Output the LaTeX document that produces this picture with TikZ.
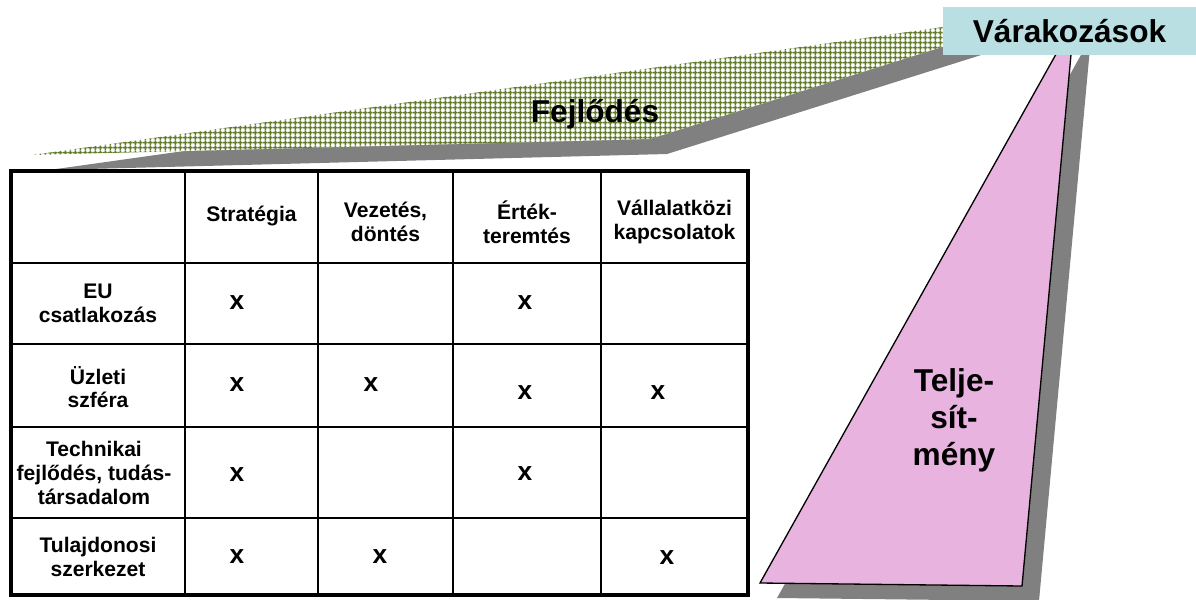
\documentclass[tikz,border=0pt]{standalone}
\usepackage{fontspec}
\setmainfont{Liberation Sans}
\usetikzlibrary{patterns.meta}

\definecolor{gridgreen}{RGB}{98,124,44}
\definecolor{shadowgray}{RGB}{128,128,128}
\definecolor{telpink}{RGB}{232,180,223}
\definecolor{varblue}{RGB}{185,223,227}

\tikzdeclarepattern{
  name=meshgrid,
  type=uncolored,
  bottom left={(0pt,0pt)},
  top right={(2.75pt,2.75pt)},
  tile size={(2.75pt,2.75pt)},
  code={
    \draw[line width=0.8pt] (0pt,1.375pt) -- (2.75pt,1.375pt)
      (1.375pt,0pt) -- (1.375pt,2.75pt);
  }
}

\tikzset{
  cellline/.style={line width=0.75pt},
  frameline/.style={line width=2.3pt},
  lbl/.style={font=\bfseries\fontsize{12}{13.5}\selectfont, align=center, inner sep=0pt},
  xmark/.style={font=\bfseries\fontsize{15}{15}\selectfont, inner sep=0pt},
  bigtext/.style={font=\bfseries\fontsize{18}{21}\selectfont, align=center, inner sep=0pt}
}

\begin{document}
\begin{tikzpicture}[x=0.02cm,y=-0.02cm]
  \useasboundingbox (0,0) rectangle (1196,599);

  % Fejlodes band and its shadow
  \fill[shadowgray] (49,170) -- (992,37.5) -- (992,51.6) -- (667,154) -- cycle;
  \fill[white] (32,155) -- (975,22.5) -- (975,36.6) -- (650,139) -- cycle;
  \fill[pattern=meshgrid, pattern color=gridgreen]
    (32,155) -- (975,22.5) -- (975,36.6) -- (650,139) -- cycle;
  \node (fejl) [bigtext, anchor=base] at (595,122) {Fejlődés};

  % table
  \fill[white] (11,171) rectangle (748,595);
  \foreach \cx in {185,318,453,601}
    \draw[cellline] (\cx,171) -- (\cx,595);
  \foreach \ry in {263,344,427,518}
    \draw[cellline] (11,\ry) -- (748,\ry);
  \draw[frameline] (11,171) rectangle (748,595);

  \node (hstrat) [lbl] at (251.5,216) {Stratégia};
  \node (hvez)   [lbl] at (385.5,222) {Vezetés,\\döntés};
  \node (hertek) [lbl] at (527,222) {Érték-\\teremtés};
  \node (hvall)  [lbl] at (674.5,222) {Vállalatközi\\kapcsolatok};

  \node (reu)   [lbl] at (98,303) {EU\\csatlakozás};
  \node (ruzl)  [lbl] at (98,387) {Üzleti\\szféra};
  \node (rtech) [lbl] at (94,473) {Technikai\\fejlődés, tudás-\\társadalom};
  \node (rtul)  [lbl] at (98,557) {Tulajdonosi\\szerkezet};

  \node (xeu1) [xmark] at (237,303) {x};
  \node (xeu3) [xmark] at (525,303) {x};
  \node (xuz1) [xmark] at (237,385) {x};
  \node (xuz2) [xmark] at (371,385) {x};
  \node (xuz3) [xmark] at (525,393) {x};
  \node (xuz4) [xmark] at (658,393) {x};
  \node (xte1) [xmark] at (237,475) {x};
  \node (xte3) [xmark] at (525,474) {x};
  \node (xtu1) [xmark] at (237,557) {x};
  \node (xtu2) [xmark] at (380,557) {x};
  \node (xtu4) [xmark] at (667,558) {x};

  % Teljesitmeny wedge and its shadow
  \fill[shadowgray] (1091,37) -- (777,598) -- (1039,601) -- cycle;
  \filldraw[fill=telpink, draw=black, line width=0.75pt]
    (1074,22) -- (760,583) -- (1022,586) -- cycle;
  \node (telj) [bigtext] at (954,420) {Telje-\\sít-\\mény};

  % Varakozasok
  \node (varak) [fill=varblue, minimum width=5.06cm, minimum height=0.96cm,
    inner sep=0pt, font=\bfseries\fontsize{18}{21}\selectfont]
    at (1069.5,31) {Várakozások};
\end{tikzpicture}
\end{document}
